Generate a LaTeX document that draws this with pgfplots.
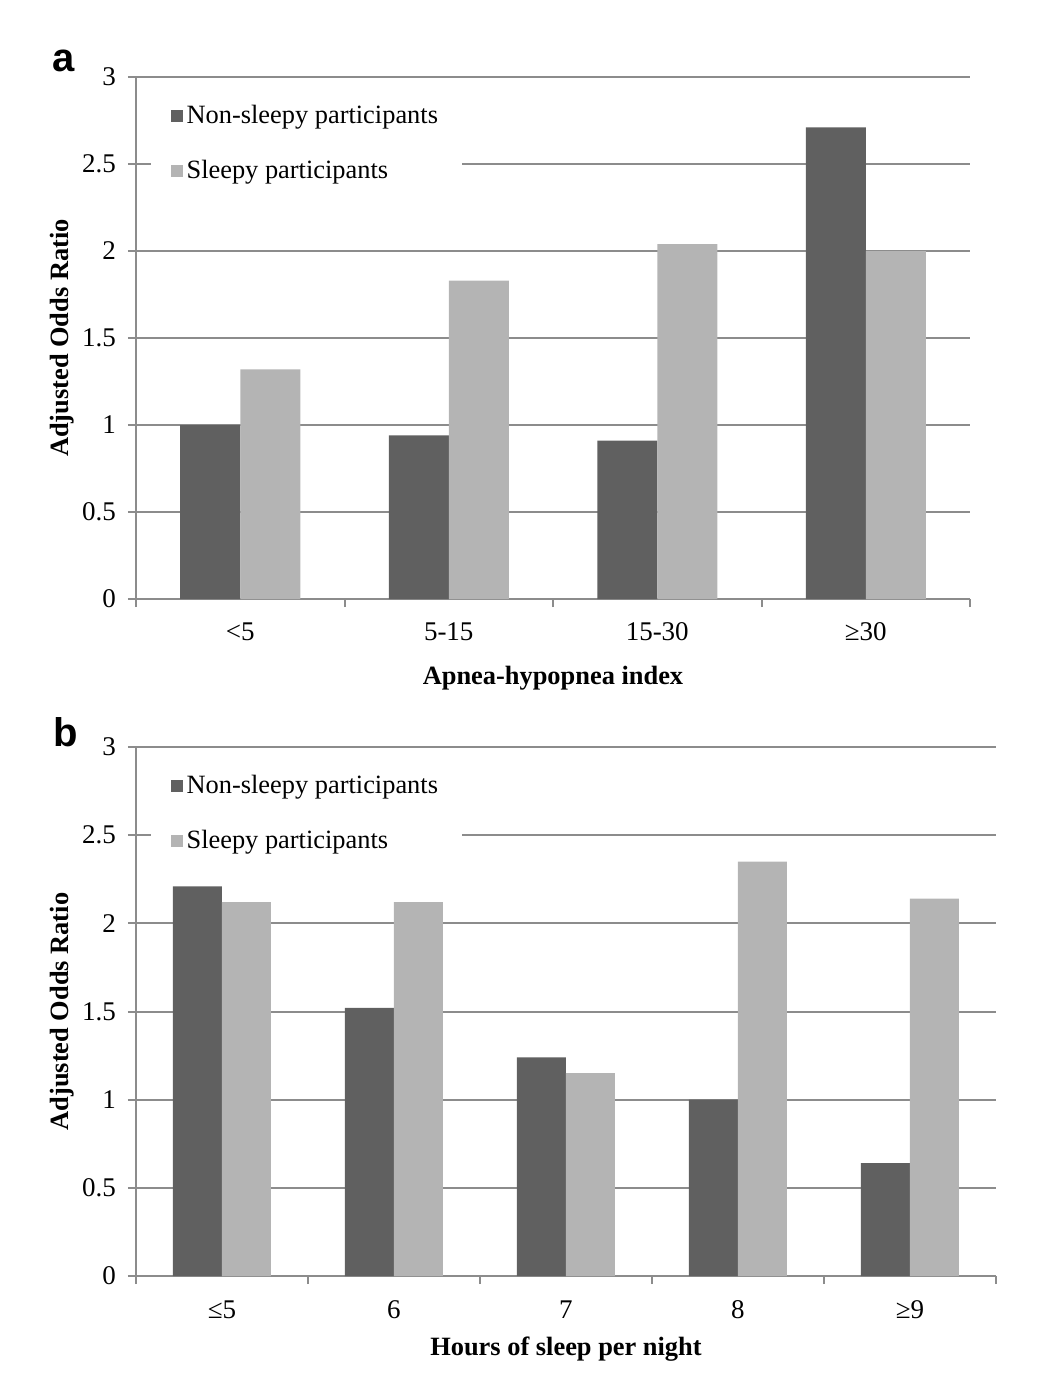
\documentclass[border=0pt]{standalone}
\usepackage{fontspec}
\setmainfont{Liberation Serif}
\newfontfamily\labelfont{Liberation Sans}
\usepackage{pgfplots}
\pgfplotsset{compat=1.18}
\definecolor{darkbar}{RGB}{96,96,96}
\definecolor{lightbar}{RGB}{180,180,180}
\definecolor{gridgray}{RGB}{140,140,140}
\pgfplotsset{
  myaxis/.style={
    scale only axis,
    axis x line=bottom, axis y line=left,
    axis line style={gridgray, line width=1pt, -},
    ymin=0, ymax=3, ytick={0,0.5,...,3},
    yticklabels={0,0.5,1,1.5,2,2.5,3},
    ymajorgrids, major grid style={gridgray, line width=1pt},
    tick align=outside,
    major tick length=4pt,
    tick style={gridgray, line width=1pt},
    ticklabel style={font=\fontsize{13.5}{15}\selectfont},
    /pgf/number format/assume math mode=true,
    yticklabel style={xshift=-2.5pt},
    ylabel={\textbf{Adjusted Odds Ratio}},
    every axis y label/.style={at={([xshift=-37pt]rel axis cs:0,0.5)}, rotate=90, anchor=center, font=\fontsize{13.2}{15}\selectfont},
    xlabel style={font=\fontsize{13.2}{15}\selectfont, anchor=center},
    legend style={draw=none, fill=white, font=\fontsize{13.2}{15}\selectfont,
      at={(0.017,0.985)}, anchor=north west, row sep=13pt, inner xsep=10pt, inner ysep=8pt,
      legend cell align=left},
    clip=false,
  }
}
\begin{document}
\begin{tikzpicture}
\useasboundingbox (0pt,0pt) rectangle (520pt,-699pt);
\begin{axis}[myaxis,
  at={(68pt,-299.5pt)}, anchor=south west,
  width=417pt, height=261pt,
  xmin=-0.5, xmax=3.5,
  xtick={-0.5,0.5,1.5,2.5,3.5},
  xticklabels={},
  extra x ticks={0,1,2,3},
  extra x tick labels={<5,5-15,15-30,≥30},
  extra x tick style={major tick length=0pt, xticklabel style={anchor=base, yshift=-20.5pt}},
  ybar=0pt, bar width=30pt,
  legend image code/.code={\fill[#1] (-2pt,-3pt) rectangle (4pt,3pt);},
  xlabel={\textbf{Apnea-hypopnea index}},
  xlabel style={at={(rel axis cs:0.5,0)}, yshift=-39.5pt},
]
\addplot[fill=darkbar, draw=none] coordinates {(0,1.00) (1,0.94) (2,0.91) (3,2.71)};
\addplot[fill=lightbar, draw=none] coordinates {(0,1.32) (1,1.83) (2,2.04) (3,2.00)};
\legend{Non-sleepy participants, Sleepy participants}
\end{axis}
\node[font=\labelfont\bfseries\fontsize{20}{24}\selectfont] at (32pt,-30.5pt) {a};
\begin{axis}[myaxis,
  at={(68pt,-638pt)}, anchor=south west,
  width=430pt, height=264.5pt,
  xmin=-0.5, xmax=4.5,
  xtick={-0.5,0.5,1.5,2.5,3.5,4.5},
  xticklabels={},
  extra x ticks={0,1,2,3,4},
  extra x tick labels={≤5,6,7,8,≥9},
  extra x tick style={major tick length=0pt, xticklabel style={anchor=base, yshift=-21pt}},
  ybar=0pt, bar width=24.5pt,
  legend style={at={(0.0165,0.985)}},
  legend image code/.code={\fill[#1] (-2pt,-3pt) rectangle (4pt,3pt);},
  xlabel={\textbf{Hours of sleep per night}},
  xlabel style={at={(rel axis cs:0.5,0)}, yshift=-36.5pt},
]
\addplot[fill=darkbar, draw=none] coordinates {(0,2.21) (1,1.52) (2,1.24) (3,1.00) (4,0.64)};
\addplot[fill=lightbar, draw=none] coordinates {(0,2.12) (1,2.12) (2,1.15) (3,2.35) (4,2.14)};
\legend{Non-sleepy participants, Sleepy participants}
\end{axis}
\node[font=\labelfont\bfseries\fontsize{20}{24}\selectfont] at (33pt,-366pt) {b};
\end{tikzpicture}
\end{document}
